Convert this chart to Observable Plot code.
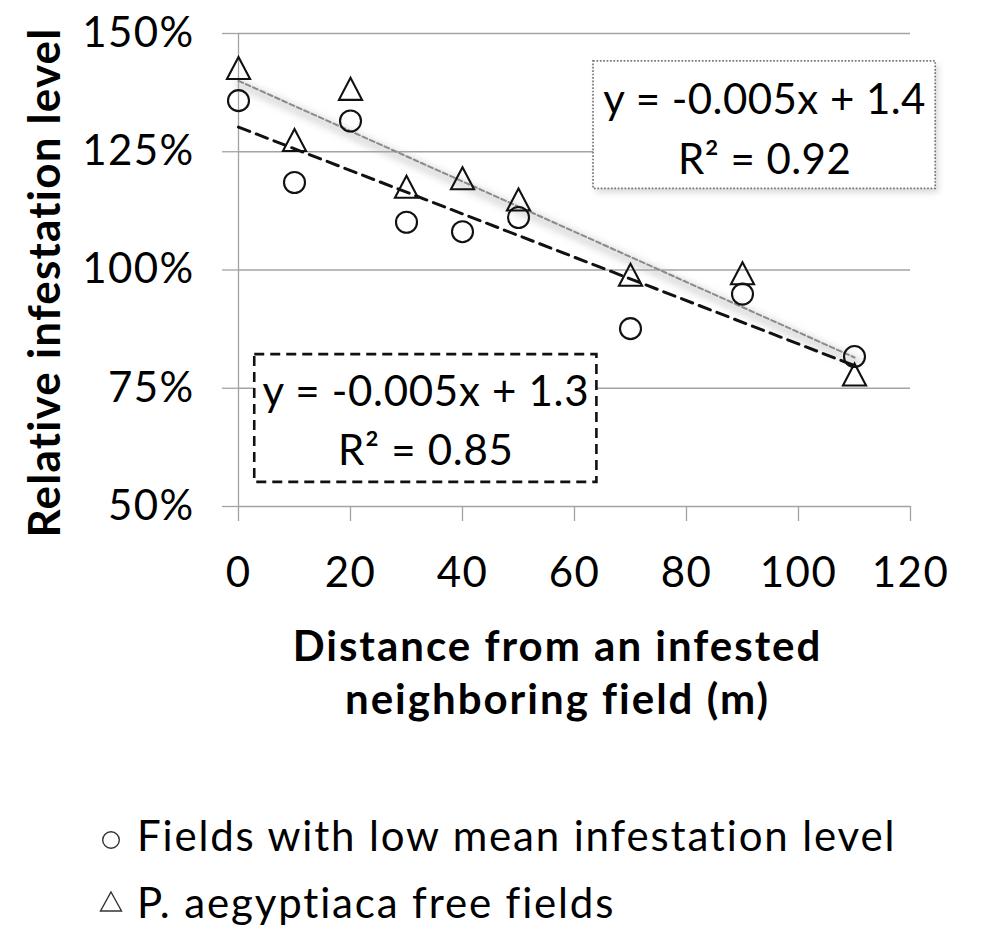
<!DOCTYPE html>
<html>
<head>
<meta charset="utf-8">
<script src="https://cdn.jsdelivr.net/npm/d3@7"></script>
<script src="https://cdn.jsdelivr.net/npm/@observablehq/plot@0.6"></script>
<style>
  html, body { margin: 0; padding: 0; background: #fff; }
  #wrap { position: relative; width: 1000px; height: 948px; font-family: Lato, "Open Sans", sans-serif; color: #000; }
  #wrap svg.chart { position: absolute; left: 0; top: 0; display: block; }
  .leg { position: absolute; font-size: 42px; line-height: 1.2; white-space: nowrap; letter-spacing: 1.85px; }
  .ico { position: absolute; }
</style>
</head>
<body>
<div id="wrap"></div>
<script>
// ---- data ----
const distances = [0, 10, 20, 30, 40, 50, 70, 90, 110];
const lowLevel  = [1.358, 1.185, 1.315, 1.101, 1.081, 1.111, 0.876, 0.949, 0.817];
const freeLevel = [1.427, 1.275, 1.383, 1.176, 1.194, 1.149, 0.990, 0.993, 0.779];
const seriesLabels = ["Fields with low mean infestation level", "P. aegyptiaca free fields"];
const xTicks = [0, 20, 40, 60, 80, 100, 120];
const yTicks = [0.5, 0.75, 1.0, 1.25, 1.5];
const freeFitText = ["y = -0.005x + 1.4", "R² = 0.92"];
const lowFitText  = ["y = -0.005x + 1.3", "R² = 0.85"];
const xTitleLines = ["Distance from an infested", "neighboring field (m)"];
const yTitle = "Relative infestation level";

const low  = distances.map((d, i) => ({d, v: lowLevel[i]}));
const free = distances.map((d, i) => ({d, v: freeLevel[i]}));

// Excel-like triangle marker (centered on its bounding box)
const triangle = {
  draw(ctx, size) {
    const r = Math.sqrt(size / Math.PI);
    ctx.moveTo(0, -r);
    ctx.lineTo(r * 1.05, r);
    ctx.lineTo(-r * 1.05, r);
    ctx.closePath();
  }
};

const FONT = "Lato, 'Open Sans', sans-serif";
const GRID = "#a3a3a3";
// annotation boxes (data units)
const box1 = {x1: 63.4, x2: 124.5, y1: 1.441, y2: 1.1715};
const box2 = {x1: 2.9, x2: 64.0, y1: 0.821, y2: 0.551};

const chart = Plot.plot({
  width: 1000,
  height: 740,
  marginLeft: 238,
  marginRight: 90,
  marginTop: 33,
  marginBottom: 234,
  style: {fontFamily: FONT, fontSize: "42px", color: "#000", background: "transparent", overflow: "visible"},
  x: {domain: [0, 120]},
  y: {domain: [0.5, 1.5]},
  marks: [
    Plot.gridY(yTicks, {stroke: GRID, strokeOpacity: 1, strokeWidth: 1.3}),
    Plot.axisY(yTicks, {tickSize: 16, tickPadding: 28, tickFormat: d3.format(".0%"), stroke: GRID, strokeWidth: 1.3, fill: "#000", fontSize: 42, label: null}),
    Plot.ruleX([0], {stroke: GRID, strokeWidth: 1.3}),
    Plot.axisX(xTicks, {tickSize: 15, tickPadding: 36, stroke: GRID, strokeWidth: 1.3, fill: "#000", fontSize: 42, label: null}),

    // box shadow + boxes
    Plot.rect([box1], {x1: "x1", x2: "x2", y1: "y1", y2: "y2", fill: "#a0a0a0", fillOpacity: 0.4, dx: 3, dy: 4}),
    Plot.rect([box1], {x1: "x1", x2: "x2", y1: "y1", y2: "y2", fill: "white", stroke: "#777", strokeWidth: 1.7, strokeDasharray: "1.7,1.7"}),
    Plot.rect([box2], {x1: "x1", x2: "x2", y1: "y1", y2: "y2", fill: "white", stroke: "#111", strokeWidth: 2.6, strokeDasharray: "10,6"}),

    // trendlines
    Plot.linearRegressionY(free, {x: "d", y: "v", ci: 0, stroke: "#a8a8a8", strokeWidth: 10, strokeOpacity: 0.35, dx: 2, dy: 4}),
    Plot.linearRegressionY(free, {x: "d", y: "v", ci: 0, stroke: "#8a8a8a", strokeWidth: 2, strokeDasharray: "5,3"}),
    Plot.linearRegressionY(low, {x: "d", y: "v", ci: 0, stroke: "#111", strokeWidth: 3, strokeDasharray: "12,7"}),

    // points
    Plot.dot(low, {x: "d", y: "v", r: 10.5, symbol: "circle", fill: "none", stroke: "#111", strokeWidth: 2.1}),
    Plot.dot(free, {x: "d", y: "v", r: 11, symbol: triangle, fill: "none", stroke: "#111", strokeWidth: 2.1, strokeLinejoin: "miter"}),

    // equation labels
    Plot.text([freeFitText.join("\n")], {text: d => d, x: (box1.x1 + box1.x2) / 2, y: 1.2032, lineAnchor: "bottom", lineHeight: 60 / 42, fontSize: 42, fill: "#000"}),
    Plot.text([lowFitText.join("\n")], {text: d => d, x: (box2.x1 + box2.x2) / 2, y: 0.5882, lineAnchor: "bottom", lineHeight: 59 / 42, fontSize: 42, fill: "#000"}),

    // axis titles
    Plot.text([xTitleLines.join("\n")], {text: d => d, frameAnchor: "bottom", textAnchor: "middle", lineAnchor: "bottom", dx: -17, dy: 207, lineHeight: 53 / 42, fontSize: 42, fontWeight: "bold", fill: "#000"}),
    Plot.text([yTitle], {text: d => d, frameAnchor: "left", textAnchor: "middle", rotate: -90, lineAnchor: "bottom", dx: -179, dy: 12.5, fontSize: 44, fontWeight: "bold", fill: "#000"})
  ]
});
chart.classList.add("chart");

// soft blur for shadows
const ns = "http://www.w3.org/2000/svg";
const defs = document.createElementNS(ns, "defs");
defs.innerHTML = '<filter id="soft" x="-30%" y="-30%" width="160%" height="160%"><feGaussianBlur stdDeviation="3"/></filter>';
chart.insertBefore(defs, chart.firstChild);
const rects = chart.querySelectorAll('g[aria-label="rect"]');
if (rects.length) rects[0].setAttribute("filter", "url(#soft)");
const regs = chart.querySelectorAll('g[aria-label="linear-regression"]');
if (regs.length) regs[0].setAttribute("filter", "url(#soft)");

// letter spacing to approximate the wider original typeface
chart.querySelectorAll('g[aria-label="y-axis tick label"], g[aria-label="x-axis tick label"]')
  .forEach(g => g.style.letterSpacing = "1.4px");
const texts = chart.querySelectorAll('g[aria-label="text"]');
const spacings = ["0.45px", "0.7px", "2px", "1.2px"];
texts.forEach((g, i) => { if (spacings[i]) g.style.letterSpacing = spacings[i]; });

const wrap = document.getElementById("wrap");
wrap.appendChild(chart);

// legend (below the plot)
const legendRows = [
  {label: seriesLabels[0], shape: "circle", baseline: 851.7, cy: 840},
  {label: seriesLabels[1], shape: "triangle", baseline: 918.3, cy: 902}
];
legendRows.forEach(row => {
  const ico = document.createElementNS(ns, "svg");
  ico.setAttribute("class", "ico");
  ico.setAttribute("width", 26);
  ico.setAttribute("height", 26);
  ico.style.left = (111 - 13) + "px";
  ico.style.top = (row.cy - 13) + "px";
  if (row.shape === "circle") {
    ico.innerHTML = '<circle cx="13" cy="13" r="8.3" fill="none" stroke="#333" stroke-width="1.4"/>';
  } else {
    ico.innerHTML = '<path d="M13,3 L23.5,22 L2.5,22 Z" fill="none" stroke="#333" stroke-width="1.4"/>';
  }
  wrap.appendChild(ico);
  const t = document.createElement("div");
  t.className = "leg";
  t.textContent = row.label;
  t.style.left = "137px";
  t.style.top = (row.baseline - 0.987 * 42) + "px";
  wrap.appendChild(t);
});
</script>
</body>
</html>
